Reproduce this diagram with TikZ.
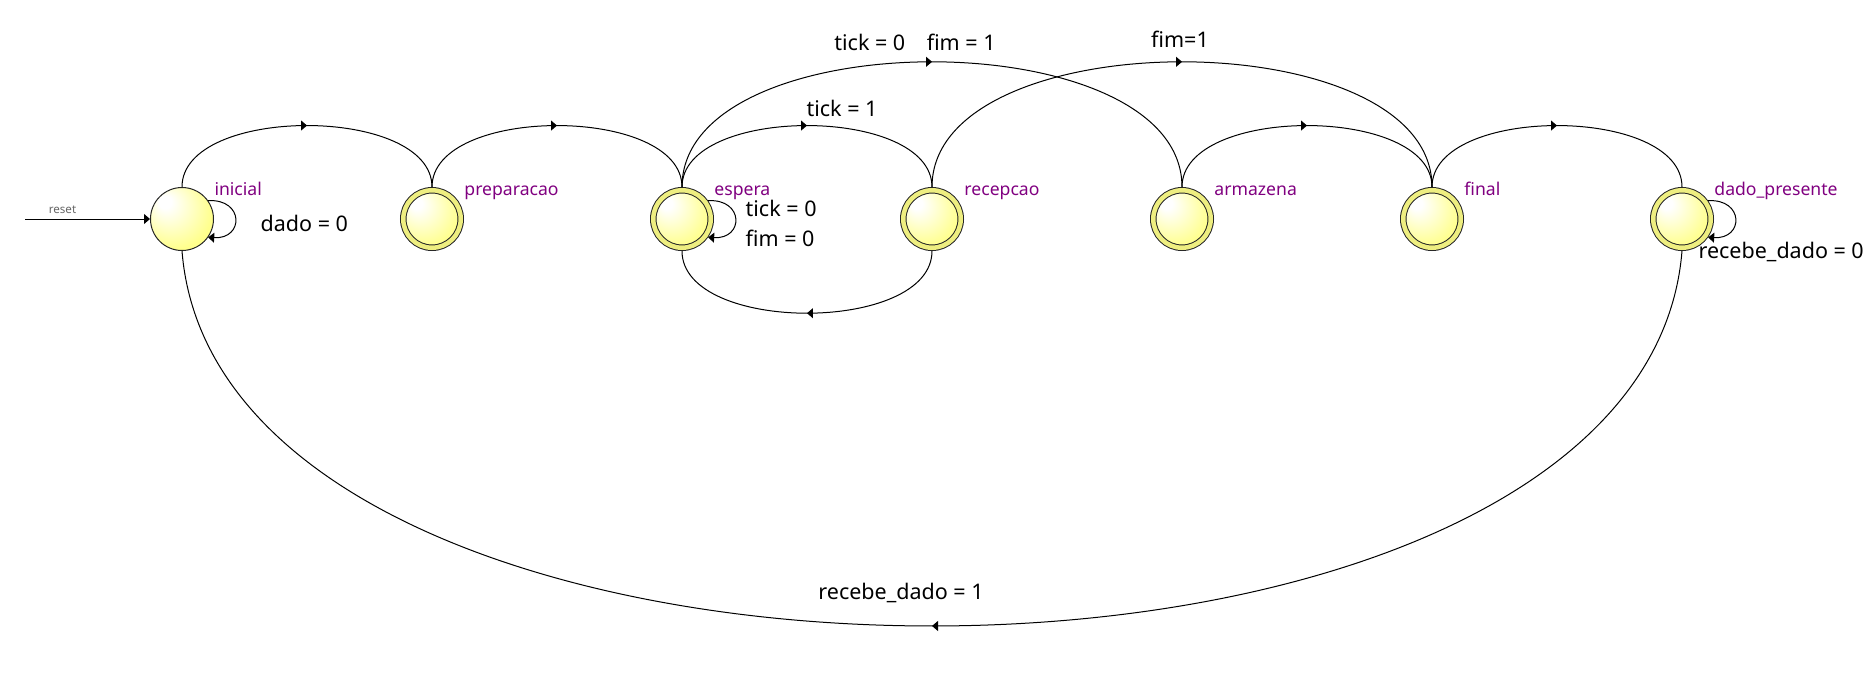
\documentclass[tikz,border=0pt]{standalone}
\usepackage{fontspec}
\setmainfont{Noto Sans}
\usetikzlibrary{positioning,arrows.meta,decorations.markings}
\definecolor{statefill}{RGB}{255,255,140}
\definecolor{ringfill}{RGB}{238,238,128}
\definecolor{namecol}{RGB}{128,0,128}
\pgfdeclareradialshading{stateball}{\pgfpoint{-15bp}{15bp}}{color(0bp)=(white); color(5bp)=(white); color(30bp)=(statefill); color(50bp)=(statefill)}

\begin{document}
\begin{tikzpicture} [
  x=0.5pt, y=0.5pt,
  line width=0.5pt,
  >={Triangle[length=3pt,width=5pt]},
  node distance=125pt, on grid,
  every node/.style={font=\fontsize{10.75pt}{15pt}\selectfont},
  state/.style={circle,draw=black!85,shading=stateball,minimum size=31.5pt,inner sep=0,outer sep=0.25pt},
  accept/.style={state,minimum size=28.75pt,double=ringfill,double distance=2.25pt,outer sep=1.6pt},
  statename/.style={text=namecol,font=\fontsize{8.8pt}{10pt}\selectfont,anchor=base west,inner sep=0,yshift=12pt},
  elabel/.style={inner sep=2pt},
  midarrow/.style={postaction={decorate},decoration={markings,mark=at position 0.5 with {\arrow{>}}}}
  ]
  \useasboundingbox (0,0) rectangle (1865,-681);
  \node (s0) [state, label={[statename]east:inicial}] at (182,-219) {};
  \node (s1) [accept, right=of s0, label={[statename]east:preparacao}] {};
  \node (s2) [accept, right=of s1, label={[statename]east:espera}] {};
  \node (s3) [accept, right=of s2, label={[statename]east:recepcao}] {};
  \node (s4) [accept, right=of s3, label={[statename]east:armazena}] {};
  \node (s5) [accept, right=of s4, label={[statename]east:final}] {};
  \node (s6) [accept, right=of s5, label={[statename]east:dado\_presente}] {};
  \coordinate (rst) at (25,-219);

  \draw [->] (rst) -- (s0) node [pos=0.3, above, inner sep=1pt, yshift=1.5pt, text=black!60, font=\fontsize{5.8pt}{7pt}\selectfont] {reset};

  \draw [midarrow] (s0.north) .. controls +(0,82) and +(0,82) .. (s1.north);
  \draw [midarrow] (s1.north) .. controls +(0,82) and +(0,82) .. (s2.north);
  \draw [midarrow] (s2.north) .. controls +(0,82) and +(0,82) .. (s3.north)
    node [elabel, pos=0.5, above, xshift=17.5pt, yshift=2pt] {tick = 1};
  \draw [midarrow] (s3.south) .. controls +(0,-83) and +(0,-83) .. (s2.south);
  \draw [midarrow] (s2.north) .. controls +(0,167) and +(0,167) .. (s4.north)
    node [elabel, pos=0.5, above, xshift=-8.5pt, yshift=3.5pt] {tick = 0\quad fim = 1};
  \draw [midarrow] (s3.north) .. controls +(0,167) and +(0,167) .. (s5.north)
    node [elabel, pos=0.5, above, xshift=-1pt, yshift=5pt] {fim=1};
  \draw [midarrow] (s4.north) .. controls +(0,82) and +(0,82) .. (s5.north);
  \draw [midarrow] (s5.north) .. controls +(0,82) and +(0,82) .. (s6.north);
  \draw [midarrow] (s6.south) .. controls +(-40,-500) and +(40,-500) .. (s0.south)
    node [elabel, pos=0.5, above, xshift=-15.5pt, yshift=9.5pt] {recebe\_dado = 1};

  \draw [->] (s0.35) .. controls +(36,2) and +(36,-2) .. (s0.-35)
    node [pos=0.5, right, inner sep=0, xshift=12.5pt, yshift=-2pt] {dado = 0};
  \draw [->] (s2.35) .. controls +(36,2) and +(36,-2) .. (s2.-35)
    node [pos=0.5, right, inner sep=0, align=left, xshift=5pt, yshift=-2pt] {tick = 0\\fim = 0};
  \draw [->] (s6.35) .. controls +(36,2) and +(36,-2) .. (s6.-35)
    node [pos=0.5, inner sep=0, xshift=23pt, yshift=-16.5pt] {recebe\_dado = 0};
\end{tikzpicture}
\end{document}
